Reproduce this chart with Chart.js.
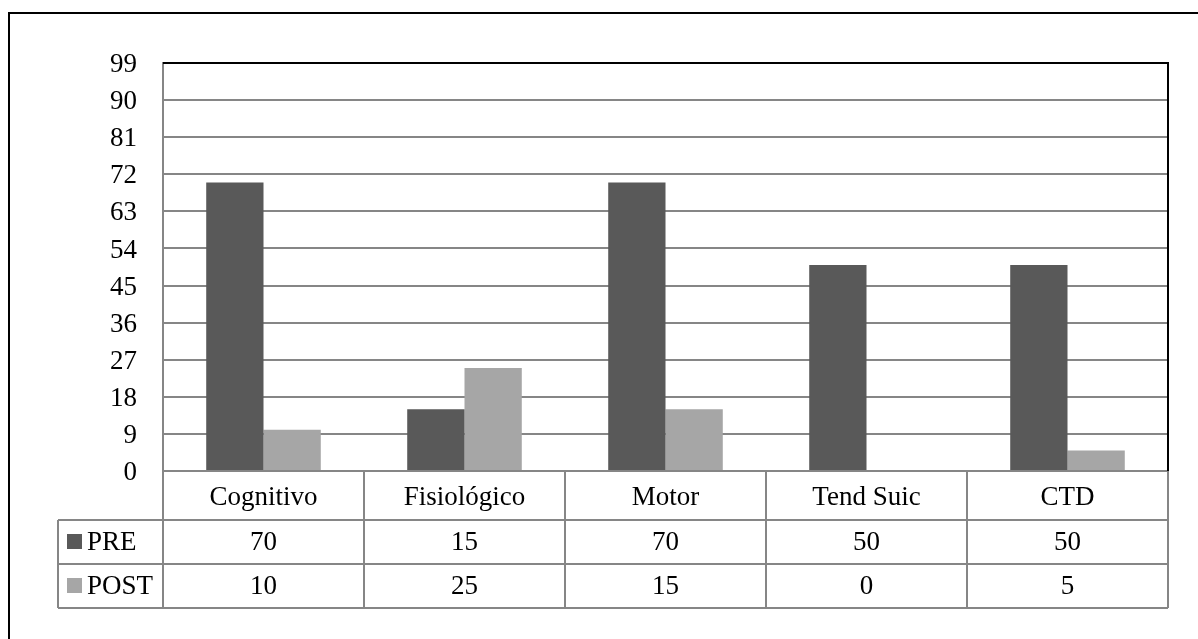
<!DOCTYPE html>
<html>
<head>
<meta charset="utf-8">
<script src="https://cdn.jsdelivr.net/npm/chart.js@4.4.0/dist/chart.umd.min.js"></script>
<style>
  html, body { margin: 0; padding: 0; background: #fff; overflow: hidden; }
  #frame { position: absolute; left: 8px; top: 12px; width: 1300px; height: 700px; border: 2px solid #000; box-sizing: border-box; }
  #wrap { position: absolute; left: 0; top: 0; width: 1198px; height: 639px; }
</style>
</head>
<body>
<div id="frame"></div>
<div id="wrap"><canvas id="chart" width="1198" height="639"></canvas></div>
<script>
const categories = ['Cognitivo', 'Fisiológico', 'Motor', 'Tend Suic', 'CTD'];
const preValues = [70, 15, 70, 50, 50];
const postValues = [10, 25, 15, 0, 5];
const seriesNames = ['PRE', 'POST'];
const seriesColors = ['#595959', '#a6a6a6'];

const FONT = '"Liberation Serif", "Times New Roman", serif';
const gridGray = '#868686';

// draws the Excel-style data table under the plot + top/right plot border
const dataTable = {
  id: 'dataTable',
  afterDraw(chart) {
    const ctx = chart.ctx;
    const area = chart.chartArea;
    const xs = chart.scales.x;
    const n = categories.length;
    const colW = (area.right - area.left) / n;
    const rowTop = area.bottom;
    const row1 = rowTop + 49;
    const row2 = row1 + 44;
    const row3 = row2 + 44;
    const tableLeft = 58;

    ctx.save();
    ctx.strokeStyle = gridGray;
    ctx.lineWidth = 2;
    ctx.beginPath();
    // horizontal lines
    ctx.moveTo(area.left, rowTop); ctx.lineTo(area.right, rowTop);
    [row1, row2, row3].forEach(y => { ctx.moveTo(tableLeft, y); ctx.lineTo(area.right, y); });
    // vertical lines
    ctx.moveTo(tableLeft, row1); ctx.lineTo(tableLeft, row3);
    for (let i = 0; i <= n; i++) {
      const x = area.left + i * colW;
      ctx.moveTo(x, rowTop); ctx.lineTo(x, row3);
    }
    ctx.stroke();

    // text
    ctx.fillStyle = '#000';
    ctx.font = '27px ' + FONT;
    ctx.textAlign = 'center';
    ctx.textBaseline = 'middle';
    const rows = [preValues, postValues];
    categories.forEach((c, i) => {
      const cx = xs.getPixelForValue(i);
      ctx.fillText(c, cx, (rowTop + row1) / 2 + 2);
      ctx.fillText(String(rows[0][i]), cx, (row1 + row2) / 2 + 1);
      ctx.fillText(String(rows[1][i]), cx, (row2 + row3) / 2 + 1);
    });

    // legend keys
    ctx.textAlign = 'left';
    seriesNames.forEach((s, k) => {
      const top = k === 0 ? row1 : row2;
      const cy = (top + top + 44) / 2;
      ctx.fillStyle = seriesColors[k];
      ctx.fillRect(67, cy - 8, 15, 15);
      ctx.fillStyle = '#000';
      ctx.fillText(s, 87, cy + 1);
    });

    // plot area border (top and right)
    ctx.strokeStyle = '#000';
    ctx.lineWidth = 2;
    ctx.beginPath();
    ctx.moveTo(area.left, area.top);
    ctx.lineTo(area.right, area.top);
    ctx.lineTo(area.right, area.bottom);
    ctx.stroke();
    ctx.restore();
  }
};

new Chart(document.getElementById('chart'), {
  type: 'bar',
  data: {
    labels: categories,
    datasets: [
      { label: seriesNames[0], data: preValues, backgroundColor: seriesColors[0], borderWidth: 0 },
      { label: seriesNames[1], data: postValues, backgroundColor: seriesColors[1], borderWidth: 0 }
    ]
  },
  options: {
    responsive: false,
    animation: false,
    categoryPercentage: 0.57,
    barPercentage: 1.0,
    layout: { padding: { left: 0, top: 63, right: 30, bottom: 168 } },
    plugins: { legend: { display: false }, tooltip: { enabled: false } },
    scales: {
      x: { display: false },
      y: {
        min: 0,
        max: 99,
        afterFit(scale) { scale.width = 163; },
        ticks: {
          stepSize: 9,
          color: '#000',
          padding: 26,
          labelOffset: 2,
          font: { family: FONT, size: 27 }
        },
        grid: { color: gridGray, lineWidth: 2, drawTicks: false },
        border: { color: gridGray, width: 2 }
      }
    }
  },
  plugins: [dataTable]
});
</script>
</body>
</html>
